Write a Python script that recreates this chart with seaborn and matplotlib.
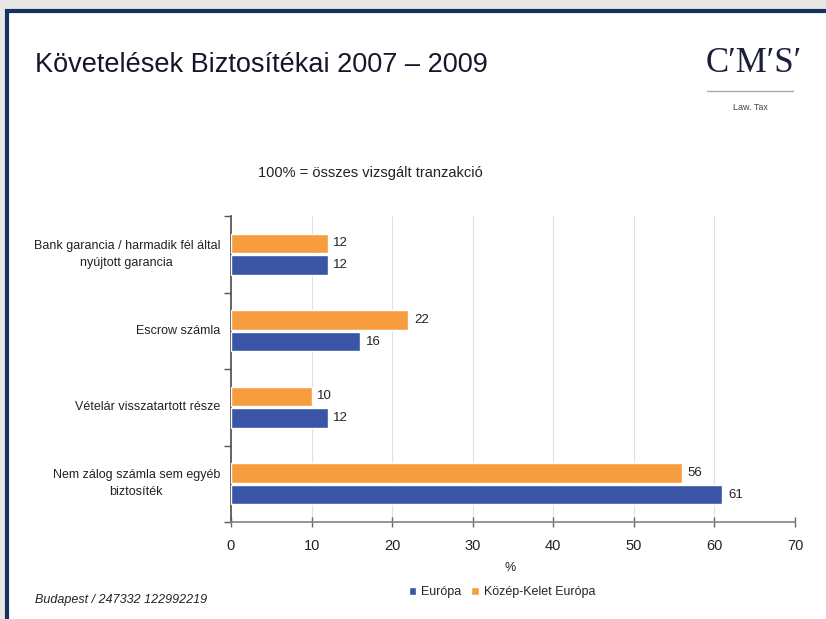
import matplotlib
matplotlib.use("Agg")
import matplotlib.pyplot as plt
import matplotlib.transforms as mtransforms
import seaborn as sns
import pandas as pd
from matplotlib.patches import Rectangle, Patch
from matplotlib.lines import Line2D

categories = ["Bank garancia / harmadik fél által\nnyújtott garancia",
              "Escrow számla",
              "Vételár visszatartott része",
              "Nem zálog számla sem egyéb\nbiztosíték"]
europa = [12, 16, 12, 61]
kke = [12, 22, 10, 56]
series = ["Európa", "Közép-Kelet Európa"]
xticks = [0, 10, 20, 30, 40, 50, 60, 70]

BLUE = "#3a54a6"
ORANGE = "#f79d3e"

df = pd.DataFrame({
    "cat": categories * 2,
    "val": europa + kke,
    "series": [series[0]] * 4 + [series[1]] * 4,
})

sns.set_theme(style="white")
plt.rcParams['font.family'] = ['Liberation Sans', 'DejaVu Sans']

W, H = 826, 619
def fx(px): return px / W
def fy(py): return 1 - py / H

fig = plt.figure(figsize=(8.26, 6.19), dpi=100)
fig.patch.set_facecolor("#e8e8e6")
# white panel with navy frame
fig.patches.append(Rectangle((fx(7), -0.05), 1.0, fy(11) + 0.05, transform=fig.transFigure,
                             facecolor="white", edgecolor="#17325f", linewidth=3, zorder=-5))

ax = fig.add_axes([fx(231), fy(522), (795 - 231) / W, (522 - 216) / H])
ax.set_zorder(2)
ax.patch.set_alpha(0)
sns.barplot(data=df, y="cat", x="val", hue="series", hue_order=[series[1], series[0]],
            palette=[ORANGE, BLUE], order=categories, orient="h", width=0.57, gap=0.1,
            saturation=1, legend=False, ax=ax, zorder=3)

for cont in ax.containers:
    ax.bar_label(cont, fmt="%d", padding=4, fontsize=9.5, color="#222222")

ax.set_xlim(0, 70)
ax.set_ylim(3.5, -0.5)
ax.set_xticks(xticks)
ax.set_xticklabels([str(t) for t in xticks], fontsize=10.5, color="#222222")
ax.set_yticks([-0.5, 0.5, 1.5, 2.5, 3.5])
ax.set_yticklabels([])
ax.tick_params(axis="y", direction="out", length=5, width=1, color="#555555", left=True)
ax.tick_params(axis="x", direction="inout", length=7, width=1, color="#666666", bottom=True, pad=9)
ax.grid(axis="x", color="#e0e0e0", linewidth=0.8, zorder=0)
ax.set_axisbelow(True)
for s in ["top", "right"]:
    ax.spines[s].set_visible(False)
ax.spines["left"].set_color("#555555")
ax.spines["bottom"].set_color("#888888")
ax.set_xlabel("")
ax.set_ylabel("")

# category labels: right edge at x=220 px, lines centred
blend = mtransforms.blended_transform_factory(fig.transFigure, ax.transData)
for i, c in enumerate(categories):
    ax.text(fx(220), i, c, ha="right", va="center", fontsize=9, color="#222222",
            multialignment="center", linespacing=1.6, transform=blend)

fig.text(fx(510), fy(568), "%", fontsize=9, color="#222222", ha="center", va="center")

fig.text(fx(35), fy(65), "Követelések Biztosítékai 2007 – 2009", fontsize=19.5,
         color="#15162a", va="center", ha="left")
fig.text(fx(258), fy(173), "100% = összes vizsgált tranzakció", fontsize=10.5,
         color="#222222", va="center", ha="left")
fig.text(fx(35), fy(600), "Budapest / 247332 122992219", fontsize=9,
         style="italic", color="#222222", va="center", ha="left")

# logo
fig.text(fx(754), fy(63), "C\u2032M\u2032S\u2032", fontsize=25,
         family=["Liberation Serif", "DejaVu Serif"], color="#1b1f3a",
         ha="center", va="center")
fig.add_artist(Line2D([fx(707), fx(793)], [fy(91), fy(91)], color="#aaaaaa", linewidth=1))
fig.text(fx(750), fy(107), "Law. Tax", fontsize=6.5, color="#444444", ha="center", va="center")

handles = [Patch(facecolor=BLUE, label=series[0]), Patch(facecolor=ORANGE, label=series[1])]
fig.legend(handles=handles, loc="center", bbox_to_anchor=(fx(502), fy(592)), ncol=2,
           frameon=False, fontsize=9, handlelength=0.6, handleheight=0.6, handletextpad=0.4,
           columnspacing=0.8)

fig.savefig("out.png", dpi=100)
